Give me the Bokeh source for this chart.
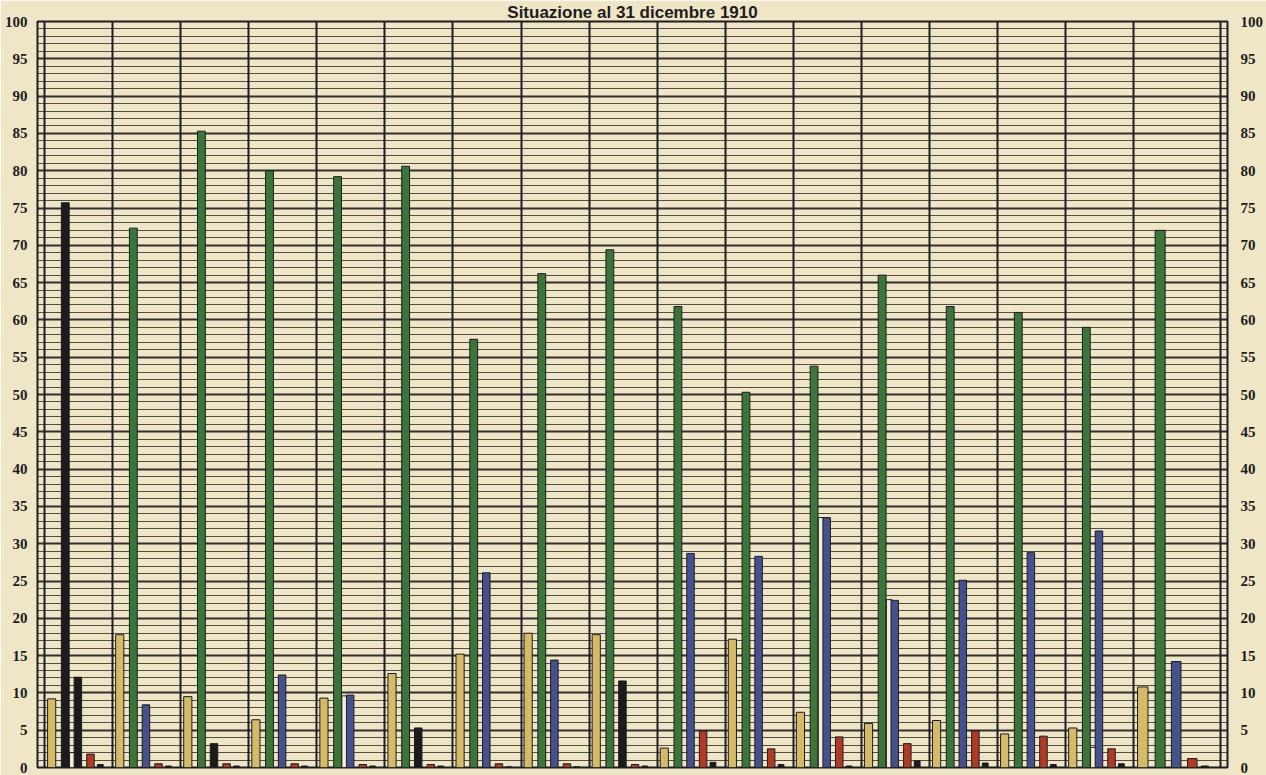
import numpy as np
from bokeh.plotting import figure
from bokeh.models import LinearAxis, FixedTicker, Range1d, Title, Grid
from bokeh.embed import file_html
from bokeh.resources import INLINE

# ---------------- data ----------------
groups = [str(i) for i in range(1, 18)]
title_text = "Situazione al 31 dicembre 1910"
y_ticks = list(range(0, 101, 5))

tan_vals = [9.2, 17.8, 9.5, 6.4, 9.3, 12.6, 15.2, 18.0, 17.8, 2.6, 17.2, 7.4, 5.9, 6.3, 4.5, 5.3, 10.8]
main_vals = [75.7, 72.3, 85.3, 80.0, 79.2, 80.6, 57.4, 66.2, 69.4, 61.8, 50.3, 53.8, 66.0, 61.8, 61.0, 59.0, 72.0]
main_is_black = [True] + [False] * 16
second_vals = [12.1, 8.4, 3.2, 12.4, 9.7, 5.3, 26.1, 14.4, 11.6, 28.7, 28.3, 33.5, 22.4, 25.1, 28.8, 31.7, 14.2]
second_is_black = [True, False, True, False, False, True, False, False, True,
                   False, False, False, False, False, False, False, False]
light_vals = [2.0, 0, 0, 0, 9.6, 0, 0, 0, 0, 0, 0, 33.5, 22.5, 0, 0, 2.7, 0]
red_vals = [1.8, 0.5, 0.5, 0.5, 0.4, 0.4, 0.5, 0.5, 0.4, 4.9, 2.5, 4.1, 3.2, 4.9, 4.2, 2.5, 1.2]
small_vals = [0.4, 0.2, 0.2, 0.2, 0.2, 0.2, 0.1, 0.1, 0.2, 0.7, 0.4, 0.2, 0.9, 0.6, 0.4, 0.5, 0.2]

# ---------------- layout / style ----------------
BG = "#eee6c5"
INK = "#1c1c22"
TAN = "#d6bb66"
GREEN = "#3c7538"
BLUE = "#46508c"
BLACK = "#1b1b1b"
RED = "#b03a26"
LIGHT = "#f4efd8"

col_w = np.array([1.0] * 16 + [87 / 68.2])
edges = np.concatenate([[0.0], np.cumsum(col_w)])
starts = edges[:-1]

p = figure(width=1266, height=775,
           x_range=Range1d(-0.103, float(edges[-1]) + 0.103), y_range=Range1d(0, 100),
           output_backend="svg", toolbar_location=None,
           x_axis_type=None, y_axis_type=None,
           min_border_left=37, min_border_right=36, min_border_top=0, min_border_bottom=8,
           background_fill_color=BG, border_fill_color=BG,
           outline_line_color=INK, outline_line_width=2)

p.title = Title(text=title_text, align="center", text_font="Liberation Sans",
                text_font_style="bold", text_font_size="17px", text_color=INK,
                standoff=0, offset=-8)

# horizontal ruling: every unit, heavier every five
minor = [v for v in range(0, 101) if v % 5]
hgrid = Grid(dimension=1, ticker=FixedTicker(ticks=y_ticks, minor_ticks=minor),
             grid_line_color=INK, grid_line_width=2, grid_line_alpha=0.9,
             minor_grid_line_color=INK, minor_grid_line_width=1, minor_grid_line_alpha=0.75)
p.add_layout(hgrid)
# vertical column rules
vgrid = Grid(dimension=0, ticker=FixedTicker(ticks=[float(e) for e in edges]),
             grid_line_color=INK, grid_line_width=2)
p.add_layout(vgrid)

for side, standoff in (("left", 4), ("right", 7)):
    ax = LinearAxis(ticker=FixedTicker(ticks=y_ticks))
    ax.axis_line_color = None
    ax.major_tick_line_color = None
    ax.minor_tick_line_color = None
    ax.major_label_standoff = standoff
    ax.major_label_text_font = "Liberation Serif"
    ax.major_label_text_font_style = "bold"
    ax.major_label_text_font_size = "15px"
    ax.major_label_text_color = INK
    p.add_layout(ax, side)


def bars(frac, wfrac, vals, colors):
    vals = np.asarray(vals, dtype=float)
    keep = vals > 0
    x = [float(v) for v in (starts + frac * col_w)[keep]]
    w = [float(v) for v in (wfrac * col_w)[keep]]
    tops = [float(v) for v in vals[keep]]
    if isinstance(colors, str):
        c = colors
    else:
        c = [col for col, k in zip(colors, keep) if k]
    p.vbar(x=x, top=tops, bottom=0, width=w, fill_color=c,
           line_color=INK, line_width=1)


bars(0.105, 0.12, tan_vals, TAN)
bars(0.305, 0.115, main_vals, [BLACK if b else GREEN for b in main_is_black])
bars(0.41, 0.085, light_vals, LIGHT)
bars(0.49, 0.11, second_vals, [BLACK if b else BLUE for b in second_is_black])
bars(0.675, 0.11, red_vals, RED)
bars(0.82, 0.085, small_vals, BLACK)

open("out.html", "w").write(file_html(p, INLINE))
